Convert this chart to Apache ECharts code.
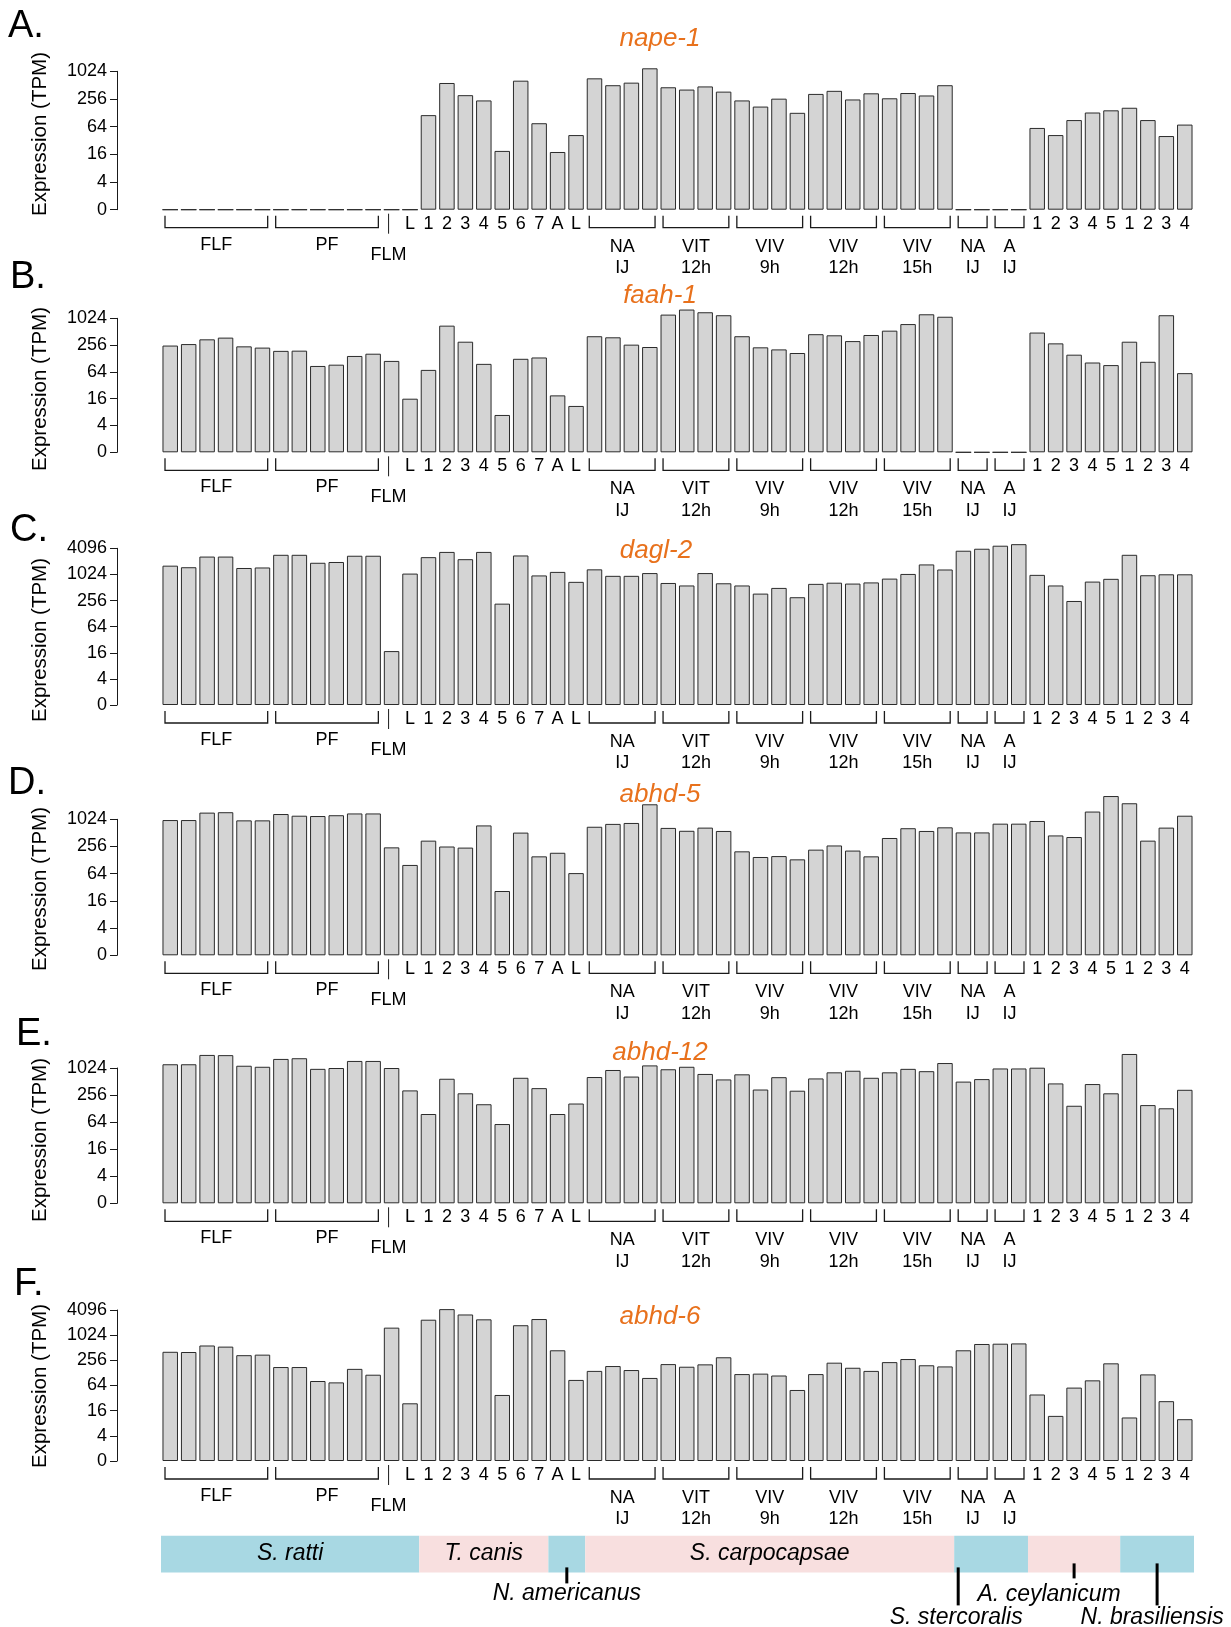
<!DOCTYPE html>
<html>
<head>
<meta charset="UTF-8">
<title>Expression of endocannabinoid genes</title>
<script src="https://cdn.jsdelivr.net/npm/echarts@6/dist/echarts.min.js"></script>
</head>
<body style="margin:0;background:#fff">
<div id="charts" style="width:1231px;height:1627px"></div>
<script type="text/javascript">
// 56 samples, left to right
var categories = ['FLF1','FLF2','FLF3','FLF4','FLF5','FLF6','PF1','PF2','PF3','PF4','PF5','PF6','FLM','SrL',
  'Tc1','Tc2','Tc3','Tc4','Tc5','Tc6','Tc7','NaA','NaL',
  'NAIJ1','NAIJ2','NAIJ3','NAIJ4','VIT12a','VIT12b','VIT12c','VIT12d','VIV9a','VIV9b','VIV9c','VIV9d',
  'VIV12a','VIV12b','VIV12c','VIV12d','VIV15a','VIV15b','VIV15c','VIV15d',
  'SsNA1','SsNA2','SsA1','SsA2','Ac1','Ac2','Ac3','Ac4','Ac5','Nb1','Nb2','Nb3','Nb4'];
var tickLabels = ['','','','','','','','','','','','','','L','1','2','3','4','5','6','7','A','L',
  '','','','','','','','','','','','','','','','','','','','',
  '','','','','1','2','3','4','5','1','2','3','4'];
var yTickLabels = ['0','4','16','64','256','1024','4096'];
var yTitle = 'Expression (TPM)';

// expression values (TPM)
var nape1 = [0,0,0,0,0,0,0,0,0,0,0,0,0,0,
  114,570,310,238,19,640,76,18,42,
  720,510,580,1190,460,410,480,370,238,175,260,128,330,385,250,340,265,345,305,510,
  0,0,0,0,60,42,89,130,145,165,89,40,71];
var faah1 = [250,270,345,377,240,225,190,192,87,93,146,164,113,16,
  71,700,305,97,6.9,126,135,19,11,
  405,383,262,232,1240,1610,1400,1200,405,228,205,170,450,425,315,432,540,760,1260,1110,
  0,0,0,0,490,280,156,104,91,305,108,1200,60];
var dagl2 = [1630,1500,2640,2640,1440,1480,2900,2900,1900,1980,2760,2760,17.5,1070,
  2560,3380,2300,3380,217,2800,970,1170,690,
  1340,950,950,1100,650,570,1100,640,570,370,500,305,620,660,630,670,820,1050,1740,1330,
  3600,4000,4700,5100,1000,570,250,700,810,2900,980,1030,1030];
var abhd5 = [985,985,1440,1470,970,970,1340,1230,1210,1260,1380,1380,245,100,
  345,256,242,750,26.5,520,155,186,66,
  700,810,850,2200,660,570,670,565,200,150,157,133,218,270,208,155,395,650,565,680,
  525,525,820,820,940,450,415,1520,3350,2320,345,670,1230];
var abhd12 = [1240,1240,2000,1980,1150,1090,1630,1690,980,1024,1470,1470,1024,325,
  97,590,280,160,58,620,365,97,166,
  645,925,660,1170,960,1090,755,570,740,340,640,320,600,820,890,620,820,980,870,1320,
  510,580,1000,1000,1040,465,148,450,280,2100,153,130,335];
var abhd6 = [410,405,580,545,340,350,177,177,82,76,160,116,1550,24,
  2400,4300,3200,2450,38,1770,2490,445,87,
  143,187,150,97,208,180,205,303,120,123,111,50,120,225,170,143,232,275,195,183,
  445,630,640,650,39,12,57,85,217,11,118,27,10];

var panelLetters = ['A.','B.','C.','D.','E.','F.'];
var geneNames = ['nape-1','faah-1','dagl-2','abhd-5','abhd-12','abhd-6'];
var panelData = [nape1, faah1, dagl2, abhd5, abhd12, abhd6];
var panelTopTick = [5,5,6,5,5,6];

// sample group brackets under each panel
var groupLabels = [['FLF'],['PF'],['NA','IJ'],['VIT','12h'],['VIV','9h'],['VIV','12h'],['VIV','15h'],['NA','IJ'],['A','IJ']];
var groupStart = [0,6,23,27,31,35,39,43,45];
var groupEnd   = [5,11,26,30,34,38,42,44,46];
var flmIndex = 12;

// species band
var speciesNames = ['S. ratti','T. canis','N. americanus','S. carpocapsae','S. stercoralis','A. ceylanicum','N. brasiliensis'];
var speciesStart = [0,14,21,23,43,47,52];
var speciesEnd   = [13,20,22,42,46,51,55];

// layout (pixels)
var panelLayout = [
  {top:71.3, height:138.4, titleY:39, letterX:8, letterY:27, nameY:134},
  {top:318.3, height:134, titleY:296, letterX:10, letterY:278, nameY:389},
  {top:548.3, height:156.7, titleX:656, titleY:551, letterX:10, letterY:531, nameY:640},
  {top:819.3, height:136, titleY:795, letterX:8, letterY:784, nameY:889},
  {top:1068, height:135.3, titleY:1053, letterX:16, letterY:1035, nameY:1140},
  {top:1310, height:151, titleY:1317, letterX:14, letterY:1285, nameY:1386}
];
var speciesColor = ['#a8d8e3','#f8dfdf','#a8d8e3','#f8dfdf','#a8d8e3','#f8dfdf','#a8d8e3'];
var speciesNote = [
  {inside:true},{inside:true},
  {tick:'center', from:-5, to:11, dx:0, ty:21},
  {inside:true},
  {tick:'left', from:-5, to:33, dx:-2, ty:45},
  {tick:'center', from:-9, to:6, dx:-25, ty:22},
  {tick:'center', from:-9, to:33, dx:-5, ty:45}
];
var FONT = 'Liberation Sans';
var INK = '#1a1a1a';

function toLevel(v){ return v < 1 ? 0 : Math.log(v) / Math.log(4); }

function label(x, y, txt, size){
  return {type:'text', x:x, y:y, style:{text:txt, align:'center', verticalAlign:'middle',
    fontSize:size || 18, fontFamily:FONT, fill:'#000'}};
}

function renderBracket(params, api){
  var i = params.dataIndex;
  var a = api.coord([api.value(0), 0]);
  var b = api.coord([api.value(1), 0]);
  var half = api.size([1, 0])[0] / 2;
  var base = a[1];
  var x0 = a[0] - half + 4, x1 = b[0] + half - 4, cx = (x0 + x1) / 2;
  var kids = [{type:'polyline', shape:{points:[[x0, base+6],[x0, base+18],[x1, base+18],[x1, base+6]]},
    style:{stroke:INK, lineWidth:1.3, fill:null}}];
  var lines = groupLabels[i];
  if (lines.length == 1) {
    kids.push(label(cx, base+35, lines[0]));
  } else {
    kids.push(label(cx, base+37, lines[0]));
    kids.push(label(cx, base+58.5, lines[1]));
  }
  return {type:'group', children:kids};
}

function renderFlm(params, api){
  var p = api.coord([api.value(0), 0]);
  return {type:'group', children:[
    {type:'line', shape:{x1:p[0]-3, y1:p[1]+4, x2:p[0]-3, y2:p[1]+24}, style:{stroke:INK, lineWidth:1}},
    label(p[0]-3, p[1]+45, 'FLM')
  ]};
}

function renderSpecies(params, api){
  var i = params.dataIndex;
  var a = api.coord([api.value(0), 1]);
  var b = api.coord([api.value(1), 0]);
  var half = api.size([1, 0])[0] / 2;
  var x0 = a[0] - half, x1 = b[0] + half, top = a[1], bottom = b[1];
  var kids = [{type:'rect', shape:{x:x0, y:top, width:x1-x0, height:bottom-top}, style:{fill:speciesColor[i]}}];
  var n = speciesNote[i];
  var txtStyle = function(x, y){
    return {type:'text', x:x, y:y, style:{text:speciesNames[i], align:'center', verticalAlign:'middle',
      fontSize:23, fontStyle:'italic', fontFamily:FONT, fill:'#000'}};
  };
  if (n.inside) {
    kids.push(txtStyle((x0 + x1) / 2, (top + bottom) / 2));
  } else {
    var tx = n.tick == 'left' ? x0 + 4 : (x0 + x1) / 2;
    kids.push({type:'line', shape:{x1:tx, y1:bottom+n.from, x2:tx, y2:bottom+n.to}, style:{stroke:'#000', lineWidth:3}});
    kids.push(txtStyle(tx + n.dx, bottom + n.ty));
  }
  return {type:'group', children:kids};
}

var mychart = echarts.init(document.getElementById('charts'), null, {renderer:'canvas'});
var grids = [], xAxes = [], yAxes = [], series = [], graphics = [];

for (var i = 0; i < 6; i++) {
  var L = panelLayout[i];
  grids.push({left:161, width:1033, top:L.top, height:L.height, containLabel:false, outerBoundsMode:'none'});
  xAxes.push({type:'category', gridIndex:i, data:categories,
    axisLine:{show:false}, axisTick:{show:false}, splitLine:{show:false},
    axisLabel:{interval:0, margin:5, fontSize:18, fontFamily:FONT, color:'#000',
      formatter:function(v, idx){ return tickLabels[idx]; }}});
  yAxes.push({type:'value', gridIndex:i, min:0, max:panelTopTick[i], interval:1, offset:44,
    splitLine:{show:false},
    axisLine:{show:true, lineStyle:{color:INK, width:1}},
    axisTick:{show:true, length:7, lineStyle:{color:INK, width:1}},
    axisLabel:{margin:10, fontSize:18, fontFamily:FONT, color:'#000',
      formatter:function(v){ return yTickLabels[Math.round(v)]; }}});
  series.push({type:'bar', xAxisIndex:i, yAxisIndex:i, clip:false, silent:true,
    barCategoryGap:'16%',
    itemStyle:{color:'#d4d4d4', borderColor:'#2b2b2b', borderWidth:1},
    data:panelData[i].map(toLevel)});
  series.push({type:'custom', xAxisIndex:i, yAxisIndex:i, clip:false, silent:true,
    renderItem:renderBracket,
    data:groupStart.map(function(s, k){ return [s, groupEnd[k]]; })});
  series.push({type:'custom', xAxisIndex:i, yAxisIndex:i, clip:false, silent:true,
    renderItem:renderFlm, data:[[flmIndex]]});
  graphics.push({type:'text', x:L.titleX || 660, y:L.titleY,
    style:{text:geneNames[i], align:'center', verticalAlign:'middle', fontSize:26,
      fontStyle:'italic', fontFamily:FONT, fill:'#e8711c'}});
  graphics.push({type:'text', x:L.letterX, y:L.letterY,
    style:{text:panelLetters[i], align:'left', verticalAlign:'middle', fontSize:38,
      fontFamily:FONT, fill:'#000'}});
  graphics.push({type:'text', x:40, y:L.nameY, rotation:Math.PI / 2,
    style:{text:yTitle, align:'center', verticalAlign:'middle', fontSize:20.5,
      fontFamily:FONT, fill:'#000'}});
}

// species band
grids.push({left:161, width:1033, top:1535.7, height:36.7, containLabel:false, outerBoundsMode:'none'});
xAxes.push({type:'category', gridIndex:6, data:categories, show:false});
yAxes.push({type:'value', gridIndex:6, min:0, max:1, show:false});
series.push({type:'custom', xAxisIndex:6, yAxisIndex:6, clip:false, silent:true,
  renderItem:renderSpecies,
  data:speciesStart.map(function(s, k){ return [s, speciesEnd[k]]; })});

var option = {
  animation:false,
  backgroundColor:'#fff',
  textStyle:{fontFamily:FONT},
  grid:grids,
  xAxis:xAxes,
  yAxis:yAxes,
  series:series,
  graphic:graphics
};
mychart.setOption(option);
</script>
</body>
</html>
